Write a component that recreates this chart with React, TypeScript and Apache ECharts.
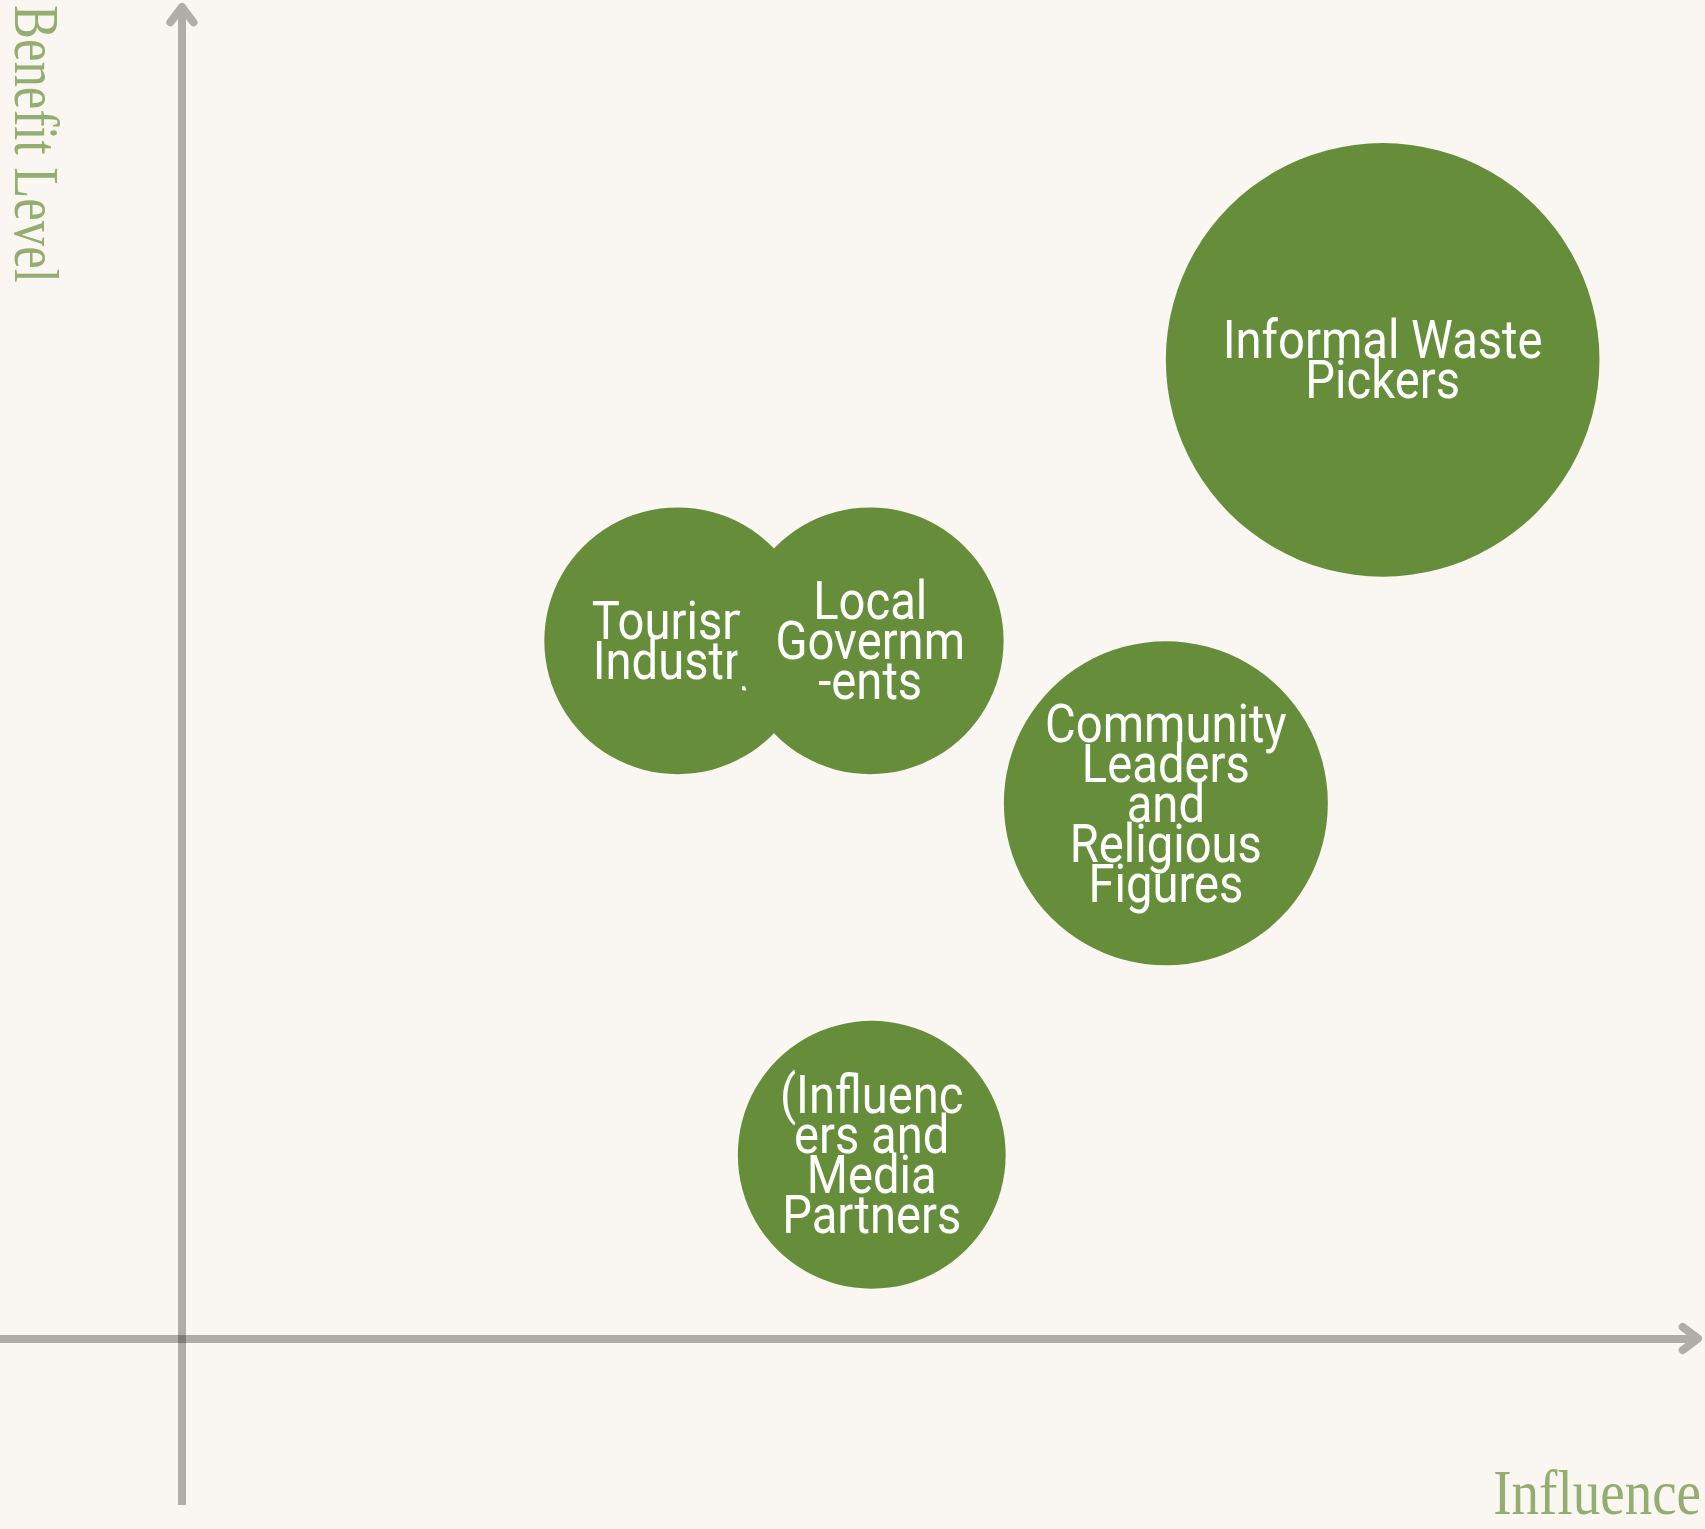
import React, { useEffect, useRef } from "react";
import * as echarts from "echarts";

// Stakeholder map data
const stakeholders = [
  "Informal Waste\nPickers",
  "Tourism\nIndustry",
  "Local\nGovernm\n-ents",
  "Community\nLeaders\nand\nReligious\nFigures",
  "(Influenc\ners and\nMedia\nPartners",
];
const influence = [7.92, 3.27, 4.54, 6.49, 4.55];
const benefit = [7.35, 5.24, 5.24, 4.02, 1.38];
const importance = [8.03, 4.94, 4.94, 6.0, 4.96];

const xAxisName = "Influence";
const yAxisName = "Benefit Level";

const X_MIN = -1.2;
const X_MAX = 10;
const Y_MIN = -1.25;
const Y_MAX = 10;

const BG = "#faf6f2";
const GREEN = "#668e3a";
const AXIS_COLOR = "rgba(28,24,20,0.33)";
const ARROW_COLOR = "#b1ada9";
const NAME_COLOR = "#94ad70";
const RADIUS_PER_UNIT = 27;

export default function App() {
  const ref = useRef<HTMLDivElement>(null);
  useEffect(() => {
    document.body.style.margin = "0";
    document.body.style.background = BG;
    const el = ref.current!;
    const chart = echarts.init(el, null, { renderer: "svg" });
    const axisCommon = {
      type: "value",
      axisLine: {
        show: true,
        onZero: true,
        lineStyle: { color: AXIS_COLOR, width: 8, cap: "butt" },
      },
      axisTick: { show: false },
      axisLabel: { show: false },
      splitLine: { show: false },
    };
    const option: any = {
      animation: false,
      backgroundColor: BG,
      grid: { left: 0, right: 7, top: 7, bottom: 24, containLabel: false },
      xAxis: { ...axisCommon, min: X_MIN, max: X_MAX },
      yAxis: { ...axisCommon, min: Y_MIN, max: Y_MAX },
      series: [
        {
          type: "custom",
          coordinateSystem: "cartesian2d",
          silent: true,
          clip: false,
          encode: { x: 0, y: 1 },
          data: stakeholders.map((_, i) => [influence[i], benefit[i], importance[i]]),
          renderItem: (params: any, api: any) => {
            const pt = api.coord([api.value(0), api.value(1)]);
            const r = api.value(2) * RADIUS_PER_UNIT;
            return {
              type: "group",
              children: [
                {
                  type: "circle",
                  shape: { cx: pt[0], cy: pt[1], r },
                  style: { fill: GREEN },
                },
                {
                  type: "text",
                  x: pt[0],
                  y: pt[1],
                  scaleX: 0.89,
                  style: {
                    text: stakeholders[params.dataIndex],
                    x: 0,
                    y: 0,
                    align: "center",
                    verticalAlign: "middle",
                    fontFamily: "Roboto",
                    fontSize: 53,
                    fontWeight: 400,
                    lineHeight: 40,
                    fill: "#ffffff",
                  },
                },
              ],
            };
          },
        },
      ],
    };
    chart.setOption(option);

    const o = chart.convertToPixel({ gridIndex: 0 }, [0, 0]) as number[];
    const top = chart.convertToPixel({ gridIndex: 0 }, [0, Y_MAX]) as number[];
    const right = chart.convertToPixel({ gridIndex: 0 }, [X_MAX, 0]) as number[];
    const arrowStyle = {
      stroke: ARROW_COLOR,
      lineWidth: 8,
      lineCap: "round",
      lineJoin: "round",
      fill: "none",
    };
    chart.setOption({
      graphic: [
        {
          type: "polyline",
          z: 10,
          silent: true,
          shape: {
            points: [
              [o[0] - 11.6, top[1] + 15.3],
              [o[0], top[1]],
              [o[0] + 11.6, top[1] + 15.3],
            ],
          },
          style: arrowStyle,
        },
        {
          type: "polyline",
          z: 10,
          silent: true,
          shape: {
            points: [
              [right[0] - 15.3, o[1] - 11.6],
              [right[0], o[1]],
              [right[0] - 15.3, o[1] + 11.6],
            ],
          },
          style: arrowStyle,
        },
        {
          type: "text",
          z: 10,
          silent: true,
          x: 1701,
          y: 1514 - 0.3375 * 64,
          scaleX: 0.86,
          style: {
            text: xAxisName,
            x: 0,
            y: 0,
            align: "right",
            verticalAlign: "middle",
            fontFamily: "Liberation Serif",
            fontSize: 64,
            fill: NAME_COLOR,
          },
        },
        {
          type: "text",
          z: 10,
          silent: true,
          x: 15 + 0.3375 * 64,
          y: 5,
          rotation: -Math.PI / 2,
          scaleX: 0.794,
          style: {
            text: yAxisName,
            x: 0,
            y: 0,
            align: "left",
            verticalAlign: "middle",
            fontFamily: "Liberation Serif",
            fontSize: 64,
            fill: NAME_COLOR,
          },
        },
      ],
    });
    return () => chart.dispose();
  }, []);
  return (
    <div
      ref={ref}
      style={{ position: "absolute", left: 0, top: 0, width: 1705, height: 1529 }}
    />
  );
}
